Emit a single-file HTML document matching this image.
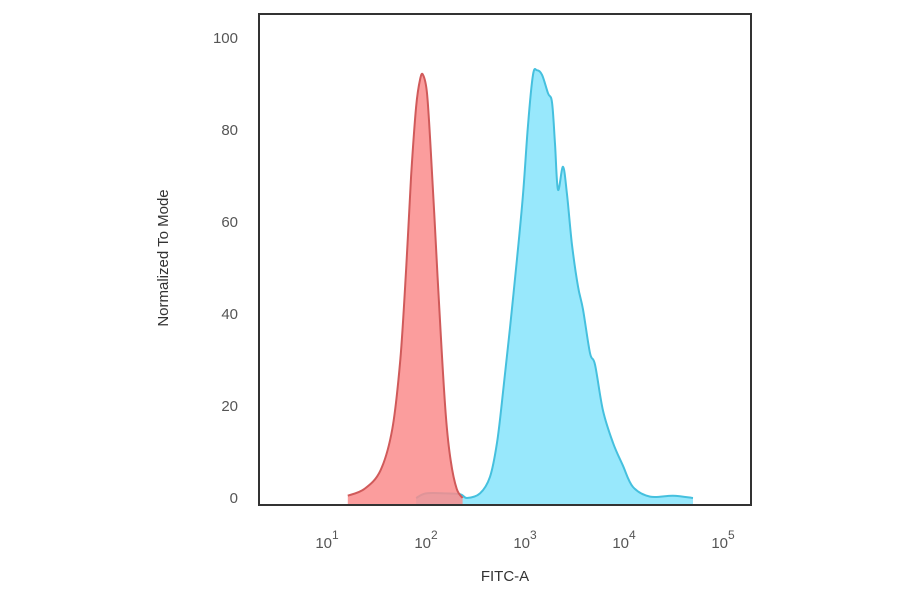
<!DOCTYPE html>
<html><head><meta charset="utf-8"><style>
html,body{margin:0;padding:0;background:#fff;}
svg text{font-family:"Liberation Sans","DejaVu Sans",sans-serif;}
</style></head><body>
<svg width="900" height="594" viewBox="0 0 900 594" xmlns="http://www.w3.org/2000/svg">
<g id="marks"></g>
<rect x="259" y="14" width="492" height="491" fill="none" stroke="#333" stroke-width="2"/>
<g id="yticks" fill="#555" font-size="15" text-anchor="end"></g>
<g id="xticks" fill="#555" font-size="15" text-anchor="middle"></g>
<text x="168" y="258" transform="rotate(-90 168 258)" text-anchor="middle" font-size="15" fill="#333">Normalized To Mode</text>
<text x="505" y="581" text-anchor="middle" font-size="15" fill="#333">FITC-A</text>
</svg>
<script>
const yTicks = [0, 20, 40, 60, 80, 100];
const xDecades = [1, 2, 3, 4, 5];
const redLog = [1.21,1.38,1.54,1.66,1.74,1.80,1.85,1.90,1.94,1.97,2.01,2.05,2.10,2.15,2.20,2.25,2.31,2.37];
const redVal = [0.5,2,6,15,30,50,70,85,91,92,88,75,55,35,18,8,2,0];
const blueLog = [1.90,2.00,2.20,2.35,2.414,2.545,2.646,2.717,2.778,2.848,2.919,2.980,3.030,3.081,3.121,3.172,3.232,3.273,3.303,3.333,3.384,3.424,3.475,3.535,3.586,3.657,3.707,3.788,3.889,3.990,4.091,4.263,4.495,4.697];
const blueVal = [0,1,1,0.8,0,1,4.6,12,23,37,52,66,81,92,93,92,88,86,77,67,72,66,55,46,41,31.5,29,19,12,7,2.4,0.3,0.5,0];

const NS = "http://www.w3.org/2000/svg";
function xs(l){ return 327 + (l - 1) * 99; }
function ys(v){ return Math.min(505, 498 - v * 4.6); }

const marks = document.getElementById('marks');
function smooth(pts){
  let d = 'M' + pts[0][0].toFixed(1) + ',' + pts[0][1].toFixed(1);
  for (let i = 0; i < pts.length - 1; i++) {
    const p0 = pts[Math.max(0, i-1)], p1 = pts[i], p2 = pts[i+1], p3 = pts[Math.min(pts.length-1, i+2)];
    const c1x = p1[0] + (p2[0]-p0[0])/6, c1y = p1[1] + (p2[1]-p0[1])/6;
    const c2x = p2[0] - (p3[0]-p1[0])/6, c2y = p2[1] - (p3[1]-p1[1])/6;
    d += ' C' + c1x.toFixed(1) + ',' + Math.min(505,c1y).toFixed(1) + ' ' + c2x.toFixed(1) + ',' + Math.min(505,c2y).toFixed(1) + ' ' + p2[0].toFixed(1) + ',' + p2[1].toFixed(1);
  }
  return d;
}
function area(logs, vals, fill, stroke, name){
  const pts = logs.map((l, i) => [xs(l), ys(vals[i])]);
  const line = smooth(pts);
  const f = document.createElementNS(NS, 'path');
  f.setAttribute('d', 'M' + pts[0][0] + ',505 L' + line.slice(1) + ' L' + pts[pts.length-1][0] + ',505 Z');
  f.setAttribute('fill', fill);
  
  
  marks.appendChild(f);
  const s = document.createElementNS(NS, 'path');
  s.setAttribute('d', line);
  s.setAttribute('fill', 'none');
  s.setAttribute('stroke', stroke);
  s.setAttribute('stroke-width', '2');
  s.setAttribute('stroke-linejoin', 'round');
  
  
  marks.appendChild(s);
}
area(blueLog, blueVal, '#98e8fc', '#45c0de', 'stained-histogram');
area(redLog, redVal, 'rgba(250,140,140,0.85)', '#d05a5a', 'control-histogram');

const yg = document.getElementById('yticks');
yTicks.forEach(v => {
  const t = document.createElementNS(NS, 'text');
  t.setAttribute('x', 238);
  t.setAttribute('y', 498 - v * 4.6 + 5);
  t.textContent = v;
  
  
  yg.appendChild(t);
});
const xg = document.getElementById('xticks');
xDecades.forEach(e => {
  const t = document.createElementNS(NS, 'text');
  t.setAttribute('x', xs(e));
  t.setAttribute('y', 548);
  t.innerHTML = '10<tspan dy="-9" font-size="12">' + e + '</tspan>';
  
  
  xg.appendChild(t);
});
</script>
</body></html>
